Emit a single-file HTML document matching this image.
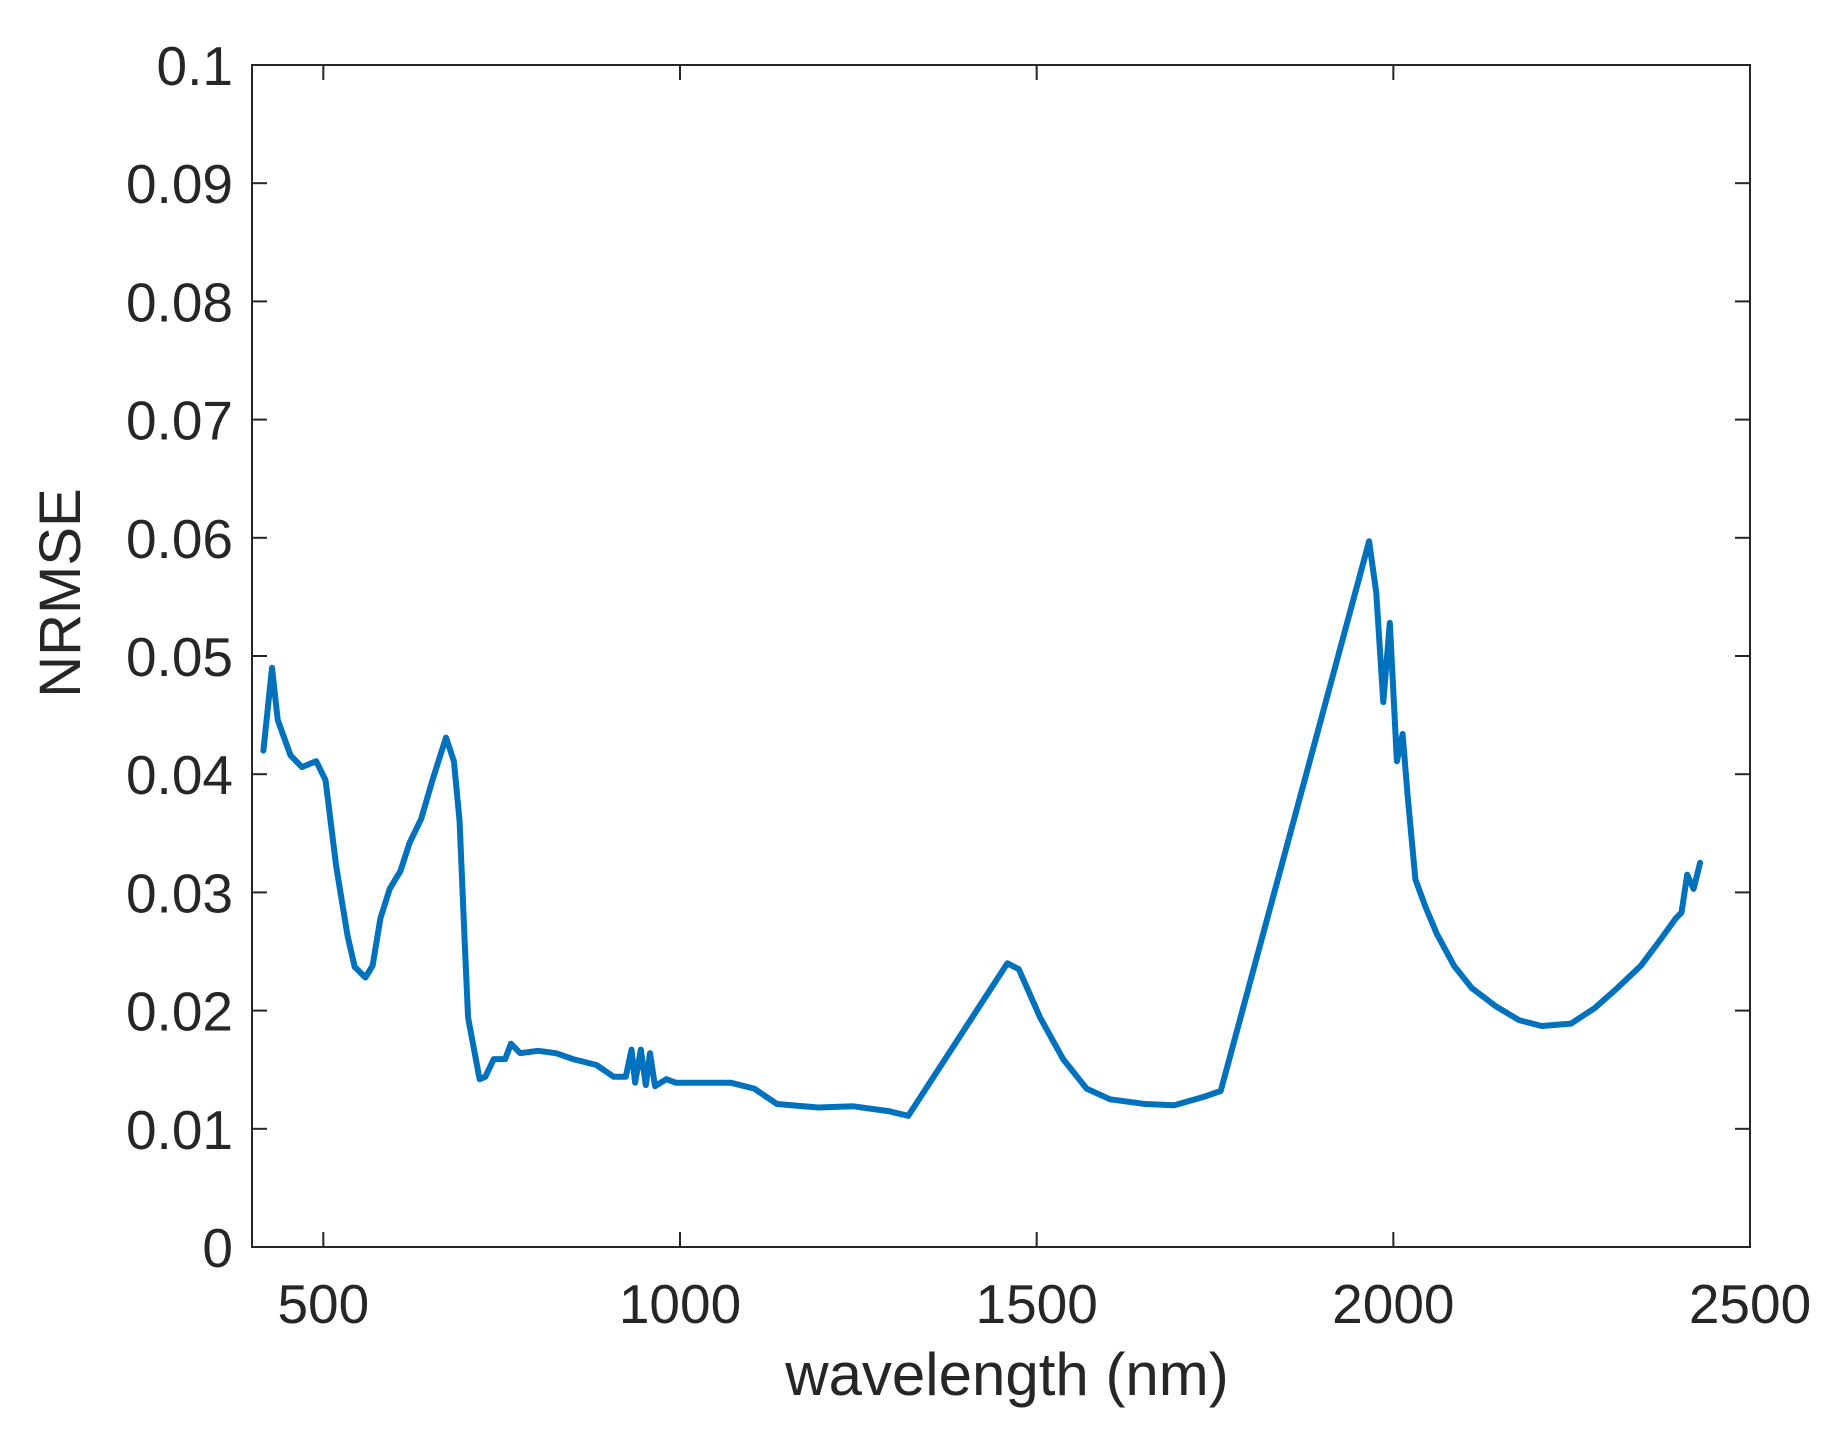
<!DOCTYPE html>
<html><head><meta charset="utf-8"><style>
html,body{margin:0;padding:0;background:#fff}
svg{display:block}
text{font-family:"Liberation Sans",sans-serif;fill:#262626}
</style></head><body>
<svg id="chart" width="1833" height="1430">
<rect x="0" y="0" width="1833" height="1430" fill="#fff"/>
<g id="ticks"></g>
<path id="line" fill="none" stroke="#0072BD" stroke-width="6" stroke-linejoin="round" stroke-linecap="round"/>
<rect x="252" y="65" width="1498" height="1182" fill="none" stroke="#262626" stroke-width="2"/>
<text x="1007" y="1395" font-size="60" text-anchor="middle">wavelength (nm)</text>
<text transform="translate(80,593) rotate(-90)" font-size="58" text-anchor="middle">NRMSE</text>
</svg>
<script>
const xTicks=[500,1000,1500,2000,2500];
const yTicks=[0,0.01,0.02,0.03,0.04,0.05,0.06,0.07,0.08,0.09,0.1];
const yTickLabels=["0","0.01","0.02","0.03","0.04","0.05","0.06","0.07","0.08","0.09","0.1"];
const wavelengths=[416,428,436,454,470,490,503,518,534,544,559,569,580,593,608,621,637,654,672,683,691,698,703,719,727,739,755,763,776,801,826,850,883,907,924,932,937,945,952,958,965,981,994,1030,1071,1104,1136,1194,1243,1292,1320,1459,1475,1505,1537,1570,1603,1652,1693,1734,1758,1966,1976,1986,1995,2005,2013,2020,2031,2045,2061,2085,2110,2143,2176,2208,2249,2282,2314,2347,2372,2396,2404,2412,2421,2430];
const nrmse=[0.042,0.049,0.0446,0.0416,0.0406,0.0411,0.0395,0.0322,0.0263,0.0237,0.0228,0.0238,0.0278,0.0303,0.0318,0.0342,0.0362,0.0397,0.0431,0.0411,0.036,0.026,0.0194,0.0142,0.0144,0.0159,0.0159,0.0172,0.0164,0.0166,0.0164,0.0159,0.0154,0.0144,0.0144,0.0167,0.0139,0.0167,0.0137,0.0164,0.0136,0.0142,0.0139,0.0139,0.0139,0.0134,0.0121,0.0118,0.0119,0.0115,0.0111,0.024,0.0235,0.0194,0.0159,0.0134,0.0125,0.0121,0.012,0.0127,0.0132,0.0597,0.0554,0.0461,0.0528,0.0411,0.0434,0.0382,0.0311,0.0288,0.0265,0.0238,0.0219,0.0204,0.0192,0.0187,0.0189,0.0202,0.0219,0.0238,0.0258,0.0278,0.0283,0.0315,0.0303,0.0325];
const L=252,R=1750,T=65,B=1247,X0=400,X1=2500,Y0=0,Y1=0.1;
function xs(v){return L+(v-X0)/(X1-X0)*(R-L);}
function ys(v){return B-(v-Y0)/(Y1-Y0)*(B-T);}
const NS="http://www.w3.org/2000/svg";
const g=document.getElementById('ticks');
function mk(tag,attrs){const e=document.createElementNS(NS,tag);for(const k in attrs)e.setAttribute(k,attrs[k]);return e;}
xTicks.forEach(v=>{
  const x=xs(v);
  const t1=mk('line',{x1:x,x2:x,y1:B,y2:B-15,stroke:'#262626','stroke-width':2});
  
  
  g.appendChild(t1);
  const t2=mk('line',{x1:x,x2:x,y1:T,y2:T+15,stroke:'#262626','stroke-width':2});
  
  
  g.appendChild(t2);
  const lb=mk('text',{x:x,y:1323,'font-size':55,'text-anchor':'middle'});
  lb.textContent=String(v);
  
  
  g.appendChild(lb);
});
yTicks.forEach((v,i)=>{
  const y=ys(v);
  const t1=mk('line',{x1:L,x2:L+15,y1:y,y2:y,stroke:'#262626','stroke-width':2});
  
  
  g.appendChild(t1);
  const t2=mk('line',{x1:R,x2:R-15,y1:y,y2:y,stroke:'#262626','stroke-width':2});
  
  
  g.appendChild(t2);
  const lb=mk('text',{x:233,y:y+20,'font-size':55,'text-anchor':'end'});
  lb.textContent=yTickLabels[i];
  
  
  g.appendChild(lb);
});
let d='';
wavelengths.forEach((w,i)=>{d+=(i?'L':'M')+xs(w).toFixed(1)+' '+ys(nrmse[i]).toFixed(1);});
document.getElementById('line').setAttribute('d',d);
</script>
</body></html>
